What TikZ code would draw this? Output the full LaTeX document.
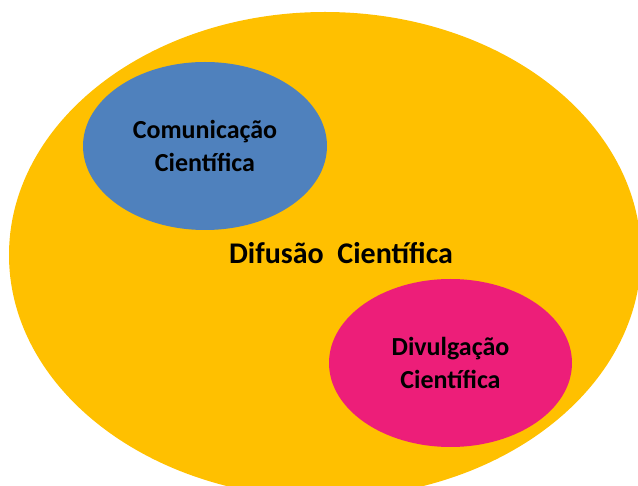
\documentclass[tikz,border=0pt]{standalone}
\usepackage{fontspec}
\setmainfont{Carlito}
\usetikzlibrary{shapes.geometric}
\definecolor{difusao}{RGB}{255,192,0}
\definecolor{comunic}{RGB}{79,129,189}
\definecolor{divulg}{RGB}{237,30,121}
\tikzset{campo/.style={ellipse,inner sep=0pt,align=center,font=\bfseries\fontsize{26}{33}\selectfont}}

\begin{document}
\begin{tikzpicture}[x=1pt,y=-1pt]
\useasboundingbox (0,0) rectangle (638,486);
\clip (0,0) rectangle (638,486);
\node[campo,fill=difusao,minimum width=632pt,minimum height=486pt] (dif) at (325,255) {};
\node[campo,fill=comunic,minimum width=244pt,minimum height=168pt] (com) at (205,146) {\raisebox{-3pt}{Comunicação}\\\raisebox{-3pt}{Científica}};
\node[campo,fill=divulg,minimum width=243pt,minimum height=168pt] (div) at (450.5,363) {Divulgação\\Científica};
\node[font=\bfseries\fontsize{30}{36}\selectfont,anchor=base] (tit) at (341,264) {Difusão\ \ Científica};
\end{tikzpicture}
\end{document}
